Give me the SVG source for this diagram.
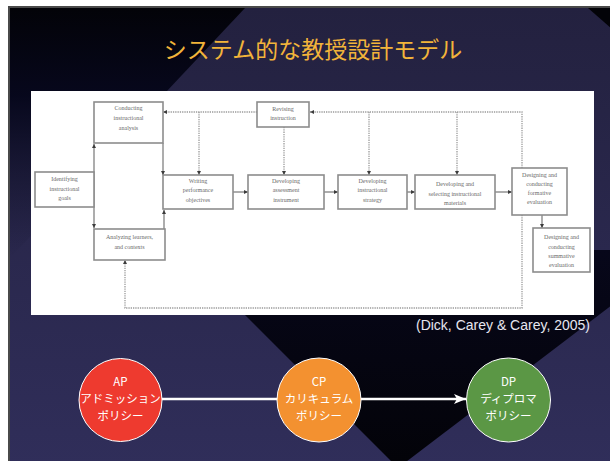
<svg xmlns="http://www.w3.org/2000/svg" width="610" height="461" viewBox="0 0 610 461">
<defs>
<linearGradient id="bg" x1="0" y1="0" x2="0" y2="1">
<stop offset="0" stop-color="#23213f"/>
<stop offset="1" stop-color="#302e5a"/>
</linearGradient>
<linearGradient id="tl" x1="0" y1="0" x2="0" y2="1">
<stop offset="0" stop-color="#030308" stop-opacity="1"/>
<stop offset="0.35" stop-color="#05061a" stop-opacity="0.95"/>
<stop offset="1" stop-color="#10102a" stop-opacity="0"/>
</linearGradient>
<linearGradient id="vg" x1="0" y1="0" x2="0" y2="1">
<stop offset="0" stop-color="#07071a"/>
<stop offset="1" stop-color="#030308"/>
</linearGradient>
<marker id="ah" viewBox="0 0 5 5" refX="5" refY="2.5" markerWidth="4" markerHeight="4" orient="auto" markerUnits="userSpaceOnUse">
<path d="M0,0 L5,2.5 L0,5 z" fill="#3c3c3c"/>
</marker>
<marker id="wh" viewBox="0 0 12 10" refX="12" refY="5" markerWidth="12" markerHeight="10" orient="auto" markerUnits="userSpaceOnUse">
<path d="M0,0 L12,5 L0,10 L3,5 z" fill="#ffffff"/>
</marker>
<style>
.box{fill:#ffffff;stroke:#8c8c8c;stroke-width:1.6}
.bt{font-family:"Liberation Serif",serif;font-size:6px;fill:#6a6a6a;text-anchor:middle}
.sl{fill:none;stroke:#8a8a8a;stroke-width:1.4;marker-end:url(#ah)}
.dl{fill:none;stroke:#9a9a9a;stroke-width:1.3;stroke-dasharray:1.3 1;marker-end:url(#ah)}
.circ{stroke:#ffffff;stroke-width:1}
.ct{font-family:"Noto Sans CJK JP","Noto Sans",sans-serif;font-size:11.5px;fill:#ffffff;text-anchor:middle}
</style>
</defs>
<rect x="0" y="0" width="610" height="461" fill="#ffffff"/>
<rect x="9" y="7" width="610" height="460" fill="url(#bg)" stroke="#4a4a4a" stroke-width="2"/>
<polygon points="10,8 245,8 10,258" fill="url(#tl)"/>
<polygon points="588,8 611,8 611,28" fill="#030308"/>
<polygon points="180,250 684,250 398,468" fill="url(#vg)"/>
<text x="313" y="58" font-family="'Noto Sans CJK JP','Noto Sans',sans-serif" font-size="23" fill="#f2b43a" text-anchor="middle">システム的な教授設計モデル</text>
<rect x="31" y="91" width="563" height="224" fill="#ffffff"/>
<g id="connectors">
<path class="sl" d="M94,190 V144"/>
<path class="sl" d="M94,190 V228"/>
<path class="sl" d="M163,143 V175"/>
<path class="sl" d="M164,229 V210"/>
<path class="sl" d="M233,192 H248"/>
<path class="sl" d="M324,192 H338"/>
<path class="sl" d="M407,192 H415"/>
<path class="sl" d="M495,192 H512"/>
<path class="sl" d="M542,215 V228"/>
<path class="dl" d="M522,168 V112 H310"/>
<path class="dl" d="M257,112 H163"/>
<path class="dl" d="M199,112 V175"/>
<path class="dl" d="M369,112 V175"/>
<path class="dl" d="M457,112 V175"/>
<path class="dl" d="M284,127 V175"/>
<path class="dl" d="M522,215 V308 H125 V260"/>
<line x1="162" y1="399" x2="278" y2="399" stroke="#ffffff" stroke-width="2.5"/>
<line x1="361" y1="399" x2="466" y2="399" stroke="#ffffff" stroke-width="2.5" marker-end="url(#wh)"/>
</g>
<g id="n-conducting"><rect class="box" x="94" y="102" width="69" height="41"/><text class="bt" x="128.5" y="110">Conducting</text><text class="bt" x="128.5" y="120">instructional</text><text class="bt" x="128.5" y="130">analysis</text></g>
<g id="n-revising"><rect class="box" x="257" y="102" width="52" height="25"/><text class="bt" x="283" y="111">Revising</text><text class="bt" x="283" y="120">instruction</text></g>
<g id="n-identifying"><rect class="box" x="35" y="172" width="59" height="35"/><text class="bt" x="64.5" y="181">Identifying</text><text class="bt" x="64.5" y="191">instructional</text><text class="bt" x="64.5" y="200">goals</text></g>
<g id="n-writing"><rect class="box" x="163" y="175" width="70" height="34"/><text class="bt" x="198" y="183">Writing</text><text class="bt" x="198" y="192">performance</text><text class="bt" x="198" y="202">objectives</text></g>
<g id="n-assessment"><rect class="box" x="248" y="175" width="76" height="34"/><text class="bt" x="286" y="183">Developing</text><text class="bt" x="286" y="192">assessment</text><text class="bt" x="286" y="202">instrument</text></g>
<g id="n-strategy"><rect class="box" x="338" y="175" width="69" height="34"/><text class="bt" x="372.5" y="183">Developing</text><text class="bt" x="372.5" y="192">instructional</text><text class="bt" x="372.5" y="202">strategy</text></g>
<g id="n-materials"><rect class="box" x="415" y="175" width="80" height="34"/><text class="bt" x="455" y="186">Developing and</text><text class="bt" x="455" y="196">selecting instructional</text><text class="bt" x="455" y="205">materials</text></g>
<g id="n-formative"><rect class="box" x="512" y="168" width="55" height="47"/><text class="bt" x="539.5" y="177">Designing and</text><text class="bt" x="539.5" y="186">conducting</text><text class="bt" x="539.5" y="195">formative</text><text class="bt" x="539.5" y="204">evaluation</text></g>
<g id="n-summative"><rect class="box" x="533" y="228" width="57" height="44"/><text class="bt" x="561.5" y="239">Designing and</text><text class="bt" x="561.5" y="249">conducting</text><text class="bt" x="561.5" y="258">summative</text><text class="bt" x="561.5" y="267">evaluation</text></g>
<g id="n-analyzing"><rect class="box" x="94" y="229" width="71" height="31"/><text class="bt" x="129.5" y="239">Analyzing learners,</text><text class="bt" x="129.5" y="249">and contexts</text></g>
<text x="590" y="330" font-family="'Liberation Sans',Arial,sans-serif" font-size="14" fill="#e6e6f0" text-anchor="end">(Dick, Carey &amp; Carey, 2005)</text>
<g id="n-ap"><circle class="circ" cx="120.5" cy="400" r="41.5" fill="#ee3a2f"/><text class="ct" x="120.5" y="386">AP</text><text class="ct" x="120.5" y="403">アドミッション</text><text class="ct" x="120.5" y="420">ポリシー</text></g>
<g id="n-cp"><circle class="circ" cx="319" cy="400" r="42" fill="#f39130"/><text class="ct" x="319" y="386">CP</text><text class="ct" x="319" y="403">カリキュラム</text><text class="ct" x="319" y="420">ポリシー</text></g>
<g id="n-dp"><circle class="circ" cx="508.5" cy="400" r="42" fill="#5b9745"/><text class="ct" x="508.5" y="386">DP</text><text class="ct" x="508.5" y="403">ディプロマ</text><text class="ct" x="508.5" y="420">ポリシー</text></g>
</svg>
